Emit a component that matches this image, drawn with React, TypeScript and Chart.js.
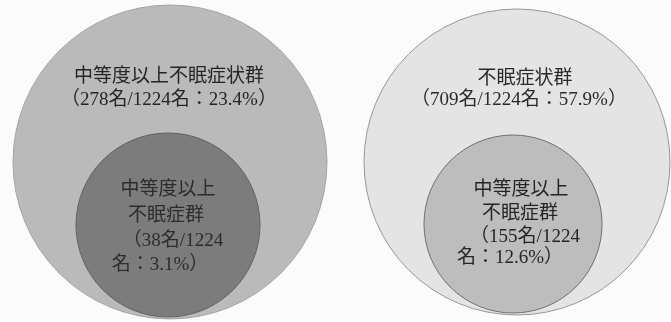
import React, { useEffect, useRef } from "react";
import { Chart, registerables } from "chart.js";

Chart.register(...registerables);

// ---- data ----
const groupNames = ["中等度以上不眠症状群", "中等度以上不眠症群", "不眠症状群", "中等度以上不眠症群"];
const counts = [278, 38, 709, 155];
const total = 1224;
const percents = ["23.4", "3.1", "57.9", "12.6"];
const isInner = [false, true, false, true];

// ---- layout (pixel space of the 671x322 canvas) ----
const W = 671;
const H = 322;
const circleX = [170, 168, 517, 513];
const circleY = [162, 225, 162, 224];
const circleR = [157, 92, 153, 89];
const fills = ["#bababa", "#7c7c7c", "#e4e4e4", "#bdbdbd"];
const strokes = ["#a4a4a4", "#636363", "#979797", "#707070"];
const textX = [[169, 169], [168, 166, 173, 160], [525, 519], [521, 520, 525, 510]];
const textY = [[77, 100], [190, 216, 241, 265], [79, 100], [190, 214, 237, 258]];
const textColors = ["#252525", "#2c2c2c", "#2a2a2a", "#252525"];
const fontSizes = [19, 19, 19, 19];

function labelLines(i: number): string[] {
  const paren = `（${counts[i]}名/${total}名：${percents[i]}%）`;
  if (!isInner[i]) return [groupNames[i], paren];
  const name = groupNames[i];
  const cut = paren.indexOf(String(total)) + String(total).length;
  return [name.slice(0, 5), name.slice(5), paren.slice(0, cut), paren.slice(cut)];
}

const labelPlugin = {
  id: "vennLabels",
  afterDatasetsDraw(chart: any) {
    const ctx = chart.ctx;
    ctx.save();
    ctx.textAlign = "center";
    ctx.textBaseline = "middle";
    groupNames.forEach((_, i) => {
      const lines = labelLines(i);
      ctx.fillStyle = textColors[i];
      ctx.font = `${fontSizes[i]}px "Liberation Serif", "Noto Sans CJK JP", serif`;
      lines.forEach((ln, j) => {
        ctx.fillText(ln, textX[i][j], textY[i][j]);
      });
    });
    ctx.restore();
  },
};

export default function App() {
  const ref = useRef<HTMLCanvasElement>(null);
  useEffect(() => {
    document.body.style.margin = "0";
    document.body.style.background = "#fbfbfb";
    const chart = new Chart(ref.current!, {
      type: "bubble",
      data: {
        datasets: [
          {
            data: counts.map((_, i) => ({ x: circleX[i], y: circleY[i], r: circleR[i] })),
            backgroundColor: fills,
            borderColor: strokes,
            borderWidth: 1,
            clip: false as any,
          },
        ],
      },
      options: {
        animation: false,
        responsive: false,
        maintainAspectRatio: false,
        layout: { padding: 0, autoPadding: false },
        events: [],
        plugins: { legend: { display: false }, tooltip: { enabled: false } },
        scales: {
          x: { type: "linear", min: 0, max: W, display: false },
          y: { type: "linear", min: 0, max: H, reverse: true, display: false },
        },
      },
      plugins: [labelPlugin],
    });
    return () => chart.destroy();
  }, []);
  return (
    <div style={{ position: "fixed", left: 0, top: 0, width: W, height: H, background: "#fbfbfb" }}>
      <canvas ref={ref} width={W} height={H} style={{ width: W, height: H }} />
    </div>
  );
}
